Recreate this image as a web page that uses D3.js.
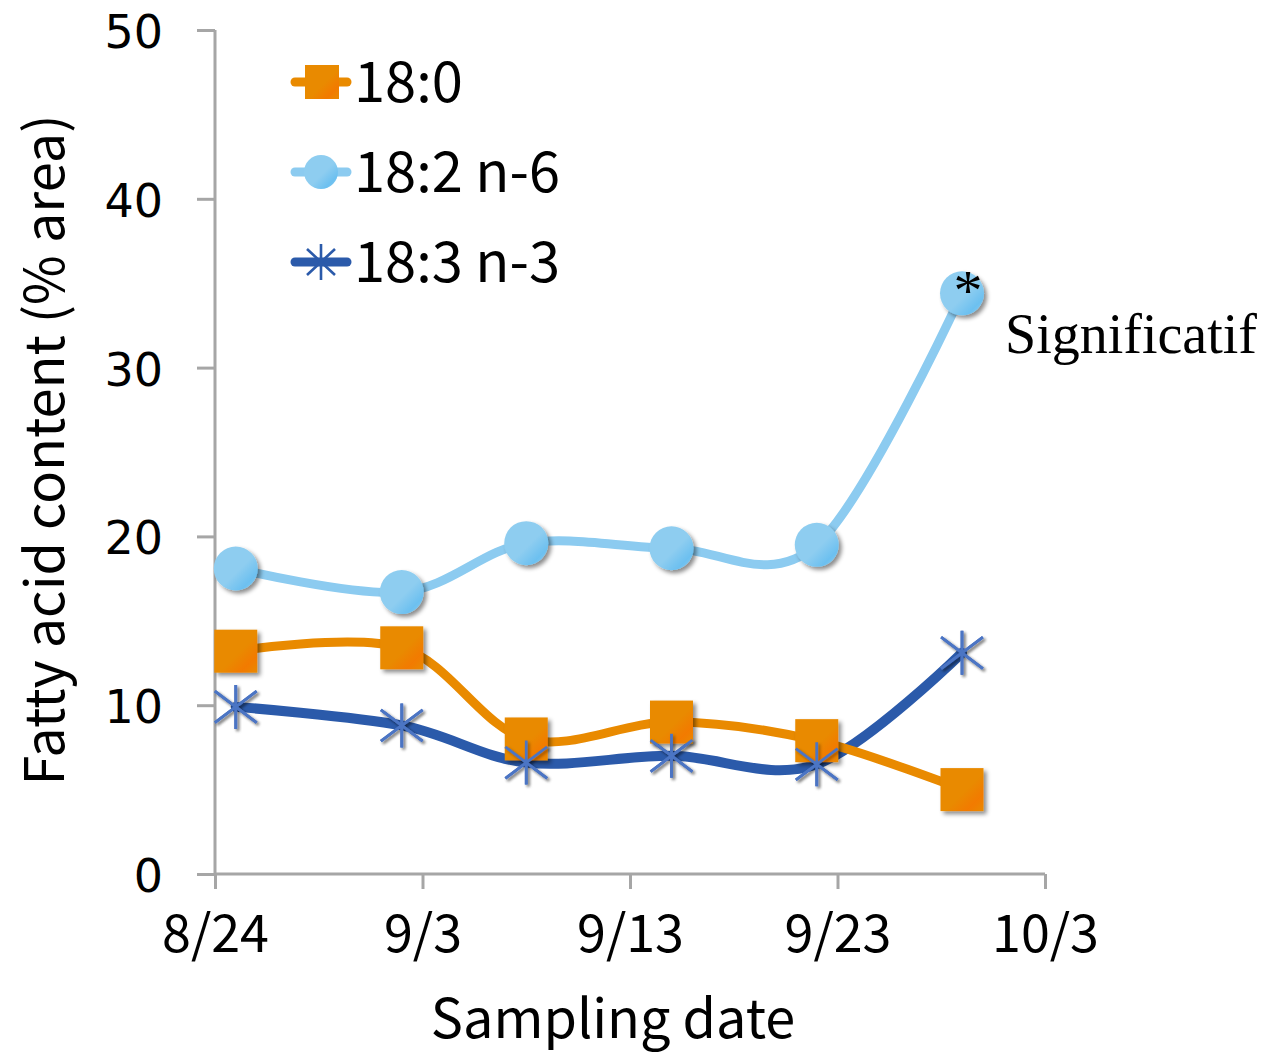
<!DOCTYPE html>
<html><head><meta charset="utf-8">
<script src="https://cdn.jsdelivr.net/npm/d3@7"></script>
<style>body{margin:0;background:#fff}svg{display:block}</style>
</head><body>
<script>
// ---- data ----
const sampleDates = ["2012-08-25","2012-09-02","2012-09-08","2012-09-15","2012-09-22","2012-09-29"];
const s180 = [13.2, 13.4, 8.0, 9.0, 7.9, 5.0];
const s182 = [18.1, 16.7, 19.6, 19.3, 19.5, 34.4];
const s183 = [9.9, 8.8, 6.6, 7.0, 6.5, 13.1];
const seriesNames = ["18:0", "18:2 n-6", "18:3 n-3"];
const xTickDates = ["2012-08-24","2012-09-03","2012-09-13","2012-09-23","2012-10-03"];
const xTickLabels = ["8/24","9/3","9/13","9/23","10/3"];
const yTicks = [0, 10, 20, 30, 40, 50];

const W = 1268, H = 1054;
const parse = d3.timeParse("%Y-%m-%d");
const svg = d3.select("body").append("svg").attr("width", W).attr("height", H);
const defs = svg.append("defs");
const sh = defs.append("filter").attr("id","sh").attr("x","-50%").attr("y","-50%").attr("width","200%").attr("height","200%");
sh.append("feDropShadow").attr("dx",3).attr("dy",3).attr("stdDeviation",2).attr("flood-color","#000").attr("flood-opacity",0.45);
const bl = defs.append("filter").attr("id","bl").attr("x","-50%").attr("y","-50%").attr("width","200%").attr("height","200%");
bl.append("feGaussianBlur").attr("in","SourceGraphic").attr("stdDeviation",0.6).attr("result","b");
bl.append("feDropShadow").attr("in","b").attr("dx",2).attr("dy",2).attr("stdDeviation",1.5).attr("flood-color","#000").attr("flood-opacity",0.35);
function grad(id, c1, c2){
  const g = defs.append("linearGradient").attr("id",id).attr("x1","0").attr("y1","0").attr("x2","1").attr("y2","1");
  g.append("stop").attr("offset","0.55").attr("stop-color",c1);
  g.append("stop").attr("offset","0.8").attr("stop-color",c2);
  g.append("stop").attr("offset","1").attr("stop-color",c1);
}
grad("gO","#E98A00","#F27A00");
grad("gC","#8ECDF0","#6CC0F0");

const x = d3.scaleTime().domain([parse(xTickDates[0]), parse(xTickDates[4])]).range([215, 1045]);
const y = d3.scaleLinear().domain([0, 50]).range([874, 30]);

const font = "'Noto Sans CJK JP', 'Noto Sans', sans-serif";
const axisColor = "#A6A6A6";

// y axis
const ya = svg.append("g").attr("transform","translate(215,0)")
  .call(d3.axisLeft(y).tickValues(yTicks).tickSize(18).tickPadding(8).tickFormat(d3.format("d")));
ya.select(".domain").attr("stroke",axisColor).attr("stroke-width",3);
ya.selectAll(".tick line").attr("stroke",axisColor).attr("stroke-width",3);
ya.selectAll(".tick text").attr("font-family","'DejaVu Sans', sans-serif").attr("font-size",46).attr("fill","#000")
  .attr("x",-52).attr("dy","0.38em");
ya.select(".domain").attr("d","M0,874V30");

// x axis
const xa = svg.append("g").attr("transform","translate(0,874)")
  .call(d3.axisBottom(x).tickValues(xTickDates.map(parse)).tickSize(15).tickPadding(26)
    .tickFormat((d,i)=>xTickLabels[i]));
xa.select(".domain").attr("stroke",axisColor).attr("stroke-width",3).attr("d","M215,0H1045");
xa.selectAll(".tick line").attr("stroke",axisColor).attr("stroke-width",3);
xa.selectAll(".tick text").attr("font-family",font).attr("font-size",52).attr("fill","#000");

// axis titles
svg.append("text").attr("x",613).attr("y",1038).attr("text-anchor","middle")
  .attr("font-family",font).attr("font-size",54).attr("fill","#000").text("Sampling date");
svg.append("text").attr("transform","translate(64,450) rotate(-90)").attr("text-anchor","middle")
  .attr("font-family",font).attr("font-size",54).attr("fill","#000").text("Fatty acid content (% area)");

const colors = ["#E98A00", "#8CCBF0", "#2B5AAA"];
const seriesData = [s180, s182, s183];
const line = d3.line().x(d=>x(d.date)).y(d=>y(d.v)).curve(d3.curveCatmullRom.alpha(0));

function drawSquare(g, cx, cy, s){
  g.append("rect").attr("x",cx-s/2).attr("y",cy-s/2).attr("width",s).attr("height",s)
    .attr("fill","url(#gO)").attr("filter","url(#sh)");
}
function drawCircle(g, cx, cy, r){
  g.append("circle").attr("cx",cx).attr("cy",cy).attr("r",r).attr("fill","url(#gC)").attr("filter","url(#sh)");
}
function drawStar(g, cx, cy, r, col){
  const p = d3.path();
  p.moveTo(cx, cy-r); p.lineTo(cx, cy+r);
  const a = r*0.95;
  p.moveTo(cx-a, cy-a*0.75); p.lineTo(cx+a, cy+a*0.75);
  p.moveTo(cx-a, cy+a*0.75); p.lineTo(cx+a, cy-a*0.75);
  g.append("path").attr("d",p.toString()).attr("stroke",col).attr("stroke-width",2.8)
    .attr("fill","none").attr("filter","url(#bl)");
}

const draws = [
  (g,cx,cy)=>drawSquare(g,cx,cy,43),
  (g,cx,cy)=>drawCircle(g,cx,cy,22),
  (g,cx,cy)=>drawStar(g,cx,cy,22,"#4B74C4")
];
[2,0,1].forEach(si=>{
  const pts = sampleDates.map((d,i)=>({date:parse(d), v:seriesData[si][i]}));
  const g = svg.append("g");
  g.append("path").datum(pts).attr("d",line).attr("fill","none").attr("stroke",colors[si])
    .attr("stroke-width", si===2 ? 10 : 9).attr("stroke-linecap","round");
  pts.forEach(p=>draws[si](g, x(p.date), y(p.v)));
});
{
  const g = svg.append("g");
  sampleDates.forEach((d,i)=>drawStar(g, x(parse(d)), y(s183[i]), 22, "#4B74C4"));
}

// legend
const legY = [82, 172, 262];
seriesNames.forEach((n,i)=>{
  const g = svg.append("g");
  g.append("line").attr("x1",295).attr("x2",347).attr("y1",legY[i]).attr("y2",legY[i])
    .attr("stroke",colors[i]).attr("stroke-width",9).attr("stroke-linecap","round");
  if(i===0) g.append("rect").attr("x",305).attr("y",legY[i]-17).attr("width",34).attr("height",34).attr("fill","url(#gO)");
  if(i===1) g.append("circle").attr("cx",321).attr("cy",legY[i]).attr("r",17).attr("fill","url(#gC)");
  if(i===2){
    const p = d3.path();
    p.moveTo(321,legY[i]-18); p.lineTo(321,legY[i]+18);
    p.moveTo(307,legY[i]-13); p.lineTo(335,legY[i]+13);
    p.moveTo(307,legY[i]+13); p.lineTo(335,legY[i]-13);
    g.append("path").attr("d",p.toString()).attr("stroke","#2B5AAA").attr("stroke-width",2.6).attr("fill","none");
  }
  g.append("text").attr("x",354).attr("y",legY[i]).attr("dy","0.36em")
    .attr("font-family",font).attr("font-size",56).attr("fill","#000").text(n);
});

// annotation
svg.append("text").attr("x",x(parse(sampleDates[5]))+6).attr("y",y(s182[5])+17).attr("text-anchor","middle")
  .attr("font-family","'Liberation Serif', serif").attr("font-size",58).attr("fill","#000").text("*");
svg.append("text").attr("x",1005).attr("y",353)
  .attr("font-family","'Liberation Serif', 'Times New Roman', serif").attr("font-size",56).attr("fill","#000").text("Significatif");
</script>
</body></html>
